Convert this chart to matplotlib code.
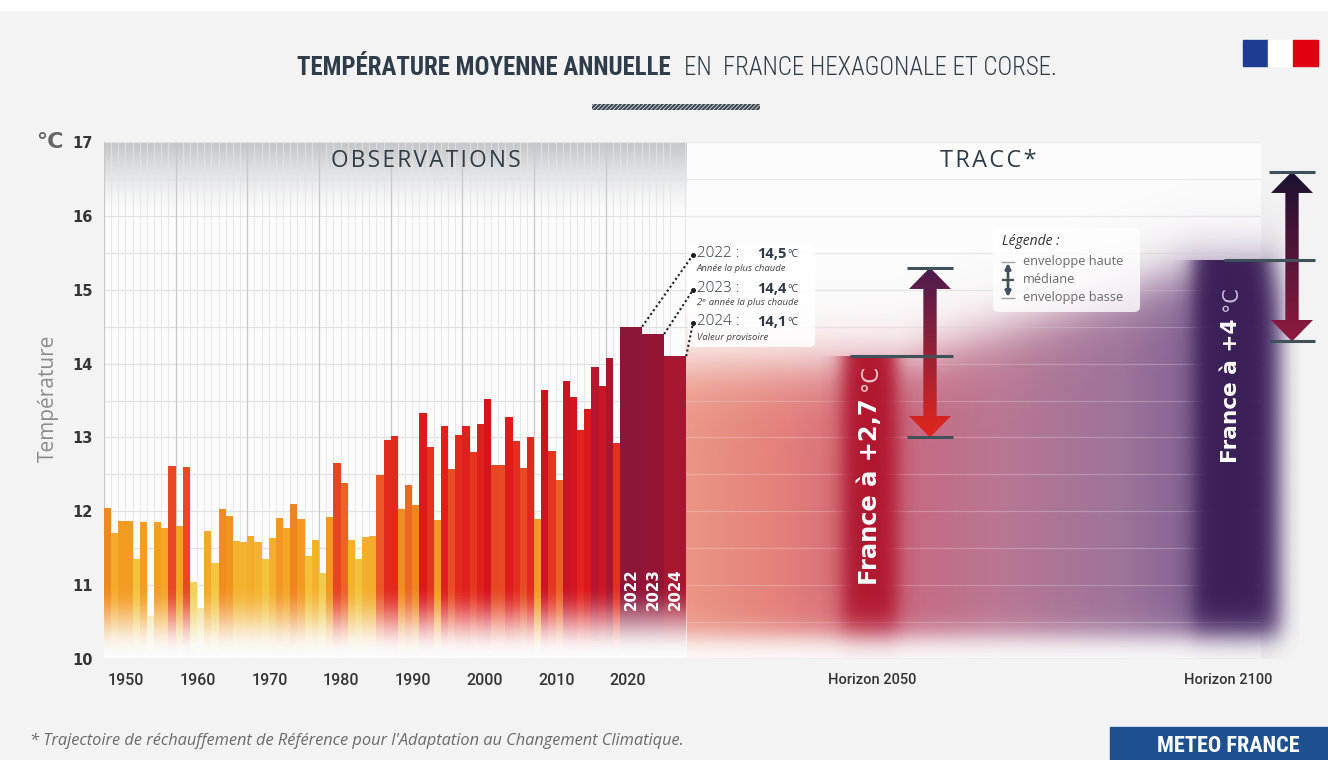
import numpy as np
import matplotlib.pyplot as plt
from matplotlib import font_manager as fm
from matplotlib.colors import LinearSegmentedColormap, to_rgb
from matplotlib.patches import Rectangle, FancyBboxPatch, Polygon

plt.rcParams['font.family'] = ['Open Sans', 'DejaVu Sans']
plt.rcParams['hatch.linewidth'] = 1.6

# ---- data ----
years = list(range(1950, 2025))
temps = [12.05, 11.70, 11.87, 11.87, 11.35, 11.85, 10.58, 11.85, 11.78, 12.61,
         11.80, 12.60, 11.04, 10.69, 11.73, 11.30, 12.03, 11.94, 11.60, 11.59,
         11.67, 11.59, 11.35, 11.64, 11.91, 11.78, 12.10, 11.90, 11.39, 11.61,
         11.17, 11.92, 12.65, 12.38, 11.61, 11.35, 11.65, 11.67, 12.49, 12.97,
         13.02, 12.03, 12.35, 12.08, 13.33, 12.87, 11.88, 13.16, 12.57, 13.03,
         13.16, 12.80, 13.18, 13.52, 12.63, 12.62, 13.27, 12.95, 12.58, 13.00,
         11.90, 13.64, 12.82, 12.42, 13.76, 13.55, 13.10, 13.38, 13.95, 13.69,
         14.08, 12.92, 14.5, 14.4, 14.1]
record_years = ['2022', '2023', '2024']
record_values = ['14,5', '14,4', '14,1']
record_notes = ['Année la plus chaude', '2ᵉ année la plus chaude', 'Valeur provisoire']
horizons = ['Horizon 2050', 'Horizon 2100']
horizon_median = [14.1, 15.4]
horizon_low = [13.0, 14.3]
horizon_high = [15.3, 16.6]
horizon_warming = ['+2,7', '+4']
decades = list(range(1950, 2030, 10))
legend_items = ['enveloppe haute', 'médiane', 'enveloppe basse']

# ---- layout helpers (pixel -> data) ----
PX_YR, PX_DEG, X0_PX, Y17_PX = 7.17, 73.86, 103.9, 142


def xd(px):
    return 1950 + (px - X0_PX) / PX_YR


def yd(py):
    return 17 - (py - Y17_PX) / PX_DEG


def sig(z):
    return 1 / (1 + np.exp(-z))


def condensed(weight):
    for fam, st in [('Roboto Condensed', 'normal'), ('Noto Sans', 'condensed'),
                    ('Noto Sans Condensed', 'normal'), ('DejaVu Sans', 'condensed'),
                    ('Liberation Sans Narrow', 'normal')]:
        try:
            p = fm.findfont(fm.FontProperties(family=fam, stretch=st, weight=weight),
                            fallback_to_default=False)
        except Exception:
            continue
        if 'Condensed' in p or 'Narrow' in p:
            return fm.FontProperties(fname=p)
    return fm.FontProperties(family='DejaVu Sans', weight=weight)


fig = plt.figure(figsize=(13.28, 7.6), dpi=100, facecolor='#f3f3f3')
fig.patches.append(Rectangle((0, 1 - 10 / 760), 1, 10 / 760, transform=fig.transFigure,
                             color='white', zorder=0))
ax = fig.add_axes([X0_PX / 1328, 101 / 760, (1322 - X0_PX) / 1328, 517 / 760])
x_max = xd(1322)
grid_end = xd(1260)
ax.set_xlim(1950, x_max)
ax.set_ylim(10, 17)
ax.set_facecolor('none')
for s in ax.spines.values():
    s.set_visible(False)

wide = 3.07
bar_x = [y if y < 2022 else 2022 + (y - 2022) * wide for y in years]
bar_w = [1 if y < 2022 else wide for y in years]
obs_end = 2022 + 3 * wide

# background + grid
ax.add_patch(Rectangle((1950, 10), grid_end - 1950, 7, color='#fcfcfc', zorder=0))
band = np.zeros((100, 1, 4))
band[..., :3] = to_rgb('#c3c5c9')
band[:, 0, 3] = np.linspace(0, 1, 100) ** 1.4
ax.imshow(band, extent=[1950, obs_end, 16, 17], origin='lower', aspect='auto',
          interpolation='bilinear', zorder=0.5)
ax.hlines(np.arange(10.5, 17.01, 0.5), 1950, grid_end, color='#e2e2e2', lw=0.9, zorder=1)
minor = [y for y in range(1950, 2032) if y % 10]
ax.vlines(minor, 10, 17, color='#e3e3e3', lw=0.6, zorder=1)
ax.vlines(decades, 10, 17, color='#c8c8c8', lw=0.9, zorder=1)

# observation bars
stops = [(10.5, '#f1e29a'), (11.0, '#f2d25c'), (11.4, '#f3c037'), (11.75, '#f4a726'),
         (12.05, '#f18a1e'), (12.4, '#ec6126'), (12.7, '#e63e21'), (13.1, '#e2231c'),
         (13.5, '#d8141c'), (13.85, '#c2152a'), (14.1, '#a8172f'), (14.5, '#8c1538')]
lo_v, hi_v = stops[0][0], stops[-1][0]
cmap = LinearSegmentedColormap.from_list('obs', [((v - lo_v) / (hi_v - lo_v), c) for v, c in stops])
cols = [cmap((min(max(t, lo_v), hi_v) - lo_v) / (hi_v - lo_v)) for t in temps]
ax.bar(bar_x, [t - 10 for t in temps], width=bar_w, bottom=10, align='edge',
       color=cols, linewidth=0, zorder=2)

fade = np.zeros((200, 1, 4))
fade[..., :3] = to_rgb('#fcfcfc')
fy = np.linspace(10, 11.1, 200)
u = np.clip((11.0 - fy) / 0.95, 0, 1)
fade[:, 0, 3] = u * u * (3 - 2 * u)
ax.imshow(fade, extent=[1950, obs_end, 10, 11.1], origin='lower', aspect='auto',
          interpolation='bilinear', zorder=3)
ax.hlines(10, 1950, grid_end, color='#d6d6d6', lw=1, zorder=3.5)

# TRACC cloud
h_center = [xd(870), xd(1231)]
h_width = [xd(897) - xd(843), xd(1269) - xd(1194)]
cx = np.linspace(obs_end, xd(1300), 600)
cy = np.linspace(10, 17, 400)
CX, CY = np.meshgrid(cx, cy)
top = np.interp(cx, [obs_end, h_center[0], h_center[0] + h_width[0] / 2,
                     h_center[1] - h_width[1] / 2, cx[-1]],
                [temps[-1], horizon_median[0], horizon_median[0],
                 horizon_median[1], horizon_median[1]])
sx = [obs_end, xd(790), xd(880), xd(1000), xd(1120), xd(1240)]
sc = ['#e9836f', '#de6762', '#c44a64', '#ad5f80', '#8c5b88', '#5b3c7a']
rgb = np.array([np.interp(cx, sx, [to_rgb(c)[i] for c in sc]) for i in range(3)]).T
cloud = np.zeros(CX.shape + (4,))
cloud[..., :3] = rgb[None, :, :]
cloud[..., 3] = (0.85 * sig((top[None, :] - 0.1 - CY) / 0.22) * sig((CY - 10.3) / 0.1)
                 * sig((xd(1282) - CX) / 0.8))
ax.imshow(cloud, extent=[cx[0], cx[-1], 10, 17], origin='lower', aspect='auto',
          interpolation='bilinear', zorder=2)
ax.hlines(np.arange(10.5, 17.01, 0.5), obs_end, grid_end, color='white', alpha=0.25,
          lw=0.9, zorder=2.2)


def soft_block(xc, w, top_v, color, edge, z):
    xs = np.linspace(xc - w / 2 - 4 * edge, xc + w / 2 + 4 * edge, 200)
    ys = np.linspace(10, top_v, 200)
    X, Y = np.meshgrid(xs, ys)
    img = np.zeros(X.shape + (4,))
    img[..., :3] = to_rgb(color)
    img[..., 3] = sig((w / 2 - np.abs(X - xc)) / edge) * sig((Y - 10.45) / 0.12)
    ax.imshow(img, extent=[xs[0], xs[-1], 10, top_v], origin='lower', aspect='auto',
              interpolation='bilinear', zorder=z)


soft_block(h_center[0], h_width[0], horizon_median[0], '#b1172f', 0.75, 2.5)
soft_block(h_center[1], h_width[1], horizon_median[1], '#3b2058', 0.75, 2.5)


def grad_arrow(xc, lo, hi, c_top, c_bot):
    hw, sw, hh = 2.93, 0.93, 0.29
    verts = [(xc, hi), (xc + hw, hi - hh), (xc + sw, hi - hh), (xc + sw, lo + hh),
             (xc + hw, lo + hh), (xc, lo), (xc - hw, lo + hh), (xc - sw, lo + hh),
             (xc - sw, hi - hh), (xc - hw, hi - hh)]
    patch = Polygon(verts, closed=True, facecolor='none', edgecolor='none')
    ax.add_patch(patch)
    g = np.zeros((200, 1, 4))
    t = np.linspace(0, 1, 200)[:, None]
    g[:, 0, :3] = (1 - t) * np.array(to_rgb(c_bot)) + t * np.array(to_rgb(c_top))
    g[..., 3] = 1
    im = ax.imshow(g, extent=[xc - hw, xc + hw, lo, hi], origin='lower', aspect='auto',
                   interpolation='bilinear', zorder=6)
    im.set_clip_path(patch)


arrow_x = [xd(930), xd(1292)]
med_start = [xd(850), xd(1224)]
arrow_cols = [('#4a1c50', '#e3261c'), ('#1a1131', '#8f1a3e')]
for i in range(2):
    grad_arrow(arrow_x[i], horizon_low[i], horizon_high[i], *arrow_cols[i])
    ax.hlines([horizon_low[i], horizon_high[i]], arrow_x[i] - 3.14, arrow_x[i] + 3.14,
              color='#3f525c', lw=2.2, zorder=7)
    ax.hlines(horizon_median[i], med_start[i], arrow_x[i] + 3.14, color='#3f525c', lw=2.2,
              zorder=7)

# ticks
ax.set_yticks(range(10, 18))
ax.set_yticklabels([str(v) for v in range(10, 18)], fontfamily='DejaVu Sans',
                   fontweight='bold', fontsize=10.5, color='#353535')
ax.set_xticks([d + 3.1 for d in decades] + [xd(872), xd(1228)])
ax.set_xticklabels([str(d) for d in decades] + horizons, fontfamily='Roboto',
                   fontweight='medium', fontsize=11.5, color='#333333')
for lbl in ax.get_xticklabels()[-2:]:
    lbl.set_fontsize(10.5)
ax.tick_params(axis='y', length=0, pad=8)
ax.tick_params(axis='x', length=0, pad=10)

R = fig.canvas.get_renderer()


def fit(t, target, vertical=False):
    bb = t.get_window_extent(R)
    cur = bb.height if vertical else bb.width
    t.set_fontsize(t.get_fontsize() * target / cur)
    return t


# region headers
obs_t = ax.text(xd(426), yd(161), '\u200a'.join('OBSERVATIONS'), ha='center', va='center',
                color='#2e3d48', fontsize=13, zorder=8)
fit(obs_t, 188)
tr_t = ax.text(xd(988), yd(161), '\u200a'.join('TRACC*'), ha='center', va='center',
               color='#2e3d48', fontsize=13, zorder=8)
fit(tr_t, 96)

# year labels inside the record bars
for k, lab in enumerate(record_years):
    t = ax.text(bar_x[-3 + k] + wide / 2, yd(610), lab, rotation=90, ha='center',
                va='bottom', color='white', fontweight='bold', fontfamily='DejaVu Sans',
                fontsize=11, zorder=8)
    fit(t, 42, vertical=True)

# record annotation box
ax.add_patch(FancyBboxPatch((xd(688), yd(347)), xd(815) - xd(688), yd(245) - yd(347),
                            boxstyle='round,pad=0,rounding_size=0.8', mutation_aspect=0.097,
                            facecolor='white', alpha=0.85, edgecolor='none', zorder=4.5))
lab_py = [254, 289, 322]
note_py = [269, 303, 338]
for k in range(3):
    ax.text(xd(697), yd(lab_py[k]), record_years[k] + ' :', ha='left', va='center',
            fontsize=11, fontweight='light', color='#2d3a45', zorder=8)
    ax.text(xd(757), yd(lab_py[k]), record_values[k], ha='left', va='center',
            fontsize=10.5, fontweight='bold', color='#2d3a45', zorder=8)
    ax.text(xd(787), yd(lab_py[k]) - 0.01, '°C', ha='left', va='center', fontsize=7.5,
            color='#2d3a45', zorder=8)
    ax.text(xd(697), yd(note_py[k]), record_notes[k], ha='left', va='center', fontsize=6.8,
            style='italic', color='#444444', zorder=8)
tips = [(bar_x[-3] + wide, temps[-3]), (bar_x[-2] + wide, temps[-2]), (obs_end, temps[-1])]
for k in range(3):
    x1, y1 = xd(693), yd(lab_py[k] + 1)
    ax.plot([tips[k][0], x1], [tips[k][1], y1], ls=(0, (1, 1.3)), color='#1e1e1e', lw=1.5,
            zorder=7)
    ax.plot(x1, y1, 'o', ms=2.6, color='#1e1e1e', zorder=7)

# legend box
ax.add_patch(FancyBboxPatch((xd(993), yd(312)), xd(1140) - xd(993), yd(228) - yd(312),
                            boxstyle='round,pad=0,rounding_size=0.8', mutation_aspect=0.097,
                            facecolor='white', alpha=0.8, edgecolor='none', zorder=4.5))
ax.text(xd(1002), yd(242), 'Légende :', ha='left', va='center', fontsize=10,
        style='italic', color='#333333', zorder=8)
leg_py = [262, 280, 298]
for k, item in enumerate(legend_items):
    ax.text(xd(1023), yd(leg_py[k]), item, ha='left', va='center', fontsize=9.2,
            color='#6a6a6a', zorder=8)
ax.hlines([yd(262), yd(298)], xd(1001), xd(1015), color='#9aa4aa', lw=1, zorder=8)
ax.hlines(yd(280), xd(1002), xd(1014), color='#3f525c', lw=1.6, zorder=8)
ax.annotate('', xy=(xd(1008), yd(263)), xytext=(xd(1008), yd(297)),
            arrowprops=dict(arrowstyle='<|-|>', color='#3f525c', lw=2, mutation_scale=8,
                            shrinkA=0, shrinkB=0), zorder=8)

# warming labels in horizon bars
wt_bottom = [yd(585), yd(463)]
wt_len = [187, 145]
deg_col = ['#f3c3cb', '#c9b9da']
for i in range(2):
    t = ax.text(h_center[i], wt_bottom[i], 'France à ' + horizon_warming[i], rotation=90,
                ha='center', va='bottom', color='white', fontweight='bold',
                fontfamily='DejaVu Sans', fontsize=16, zorder=8)
    fit(t, wt_len[i], vertical=True)
    y_top = ax.transData.inverted().transform((0, t.get_window_extent(R).y1 + 7))[1]
    ax.text(h_center[i], y_top, '°C', rotation=90, ha='center', va='bottom',
            color=deg_col[i], fontfamily='DejaVu Sans', fontsize=t.get_fontsize() * 0.95,
            zorder=8)

# figure-level texts
fig.text(50 / 1328, 1 - 142 / 760, '°C', ha='center', va='center', fontsize=16,
         fontweight='bold', fontfamily='DejaVu Sans', color='#666666')
yl = fig.text(48 / 1328, 1 - 398 / 760, 'Température', rotation=90, ha='center',
              va='center', fontsize=13, color='#8c8c8c')
fit(yl, 127, vertical=True)

fp_b = condensed('bold')
fp_l = condensed('light')
t1 = fig.text(0, 1 - 75 / 760, 'TEMPÉRATURE MOYENNE ANNUELLE', ha='left', va='baseline',
              fontproperties=fp_b, color='#2f3d4a')
t1.set_fontsize(20)
t2 = fig.text(0, 1 - 75 / 760, 'EN  FRANCE HEXAGONALE ET CORSE.', ha='left', va='baseline',
              fontproperties=fp_l, color='#2f3d4a')
t2.set_fontsize(20)
fit(t1, 376)
fit(t2, 373)
w1 = t1.get_window_extent(R).width
w2 = t2.get_window_extent(R).width
start = 677 - (w1 + 13 + w2) / 2
t1.set_x(start / 1328)
t2.set_x((start + w1 + 13) / 1328)

fig.patches.append(Rectangle((592 / 1328, 1 - 110 / 760), 168 / 1328, 6 / 760,
                             transform=fig.transFigure, facecolor='none',
                             edgecolor='#3d4a55', hatch='////////', lw=0))

# logo
for x0, c in [(1243, '#1f3c93'), (1268, 'white'), (1293, '#e1000f')]:
    fig.patches.append(Rectangle((x0 / 1328, 1 - 66 / 760), 25 / 1328, 26 / 760,
                                 transform=fig.transFigure, color=c))

# footer
ft = fig.text(30 / 1328, 1 - 741 / 760,
              "* Trajectoire de réchauffement de Référence pour l'Adaptation au Changement Climatique.",
              ha='left', va='center', style='italic', fontsize=10, color='#6a6a6a')
fit(ft, 656)
fig.patches.append(Rectangle((1110 / 1328, 0), 218 / 1328, 33 / 760, transform=fig.transFigure,
                             color='#1e4f8f'))
mf = fig.text(1228 / 1328, 1 - 746 / 760, 'METEO FRANCE', ha='center', va='center',
              fontproperties=condensed('bold'), color='white')
mf.set_fontsize(12)
fit(mf, 143)

fig.savefig('out.png', dpi=100, facecolor=fig.get_facecolor())
